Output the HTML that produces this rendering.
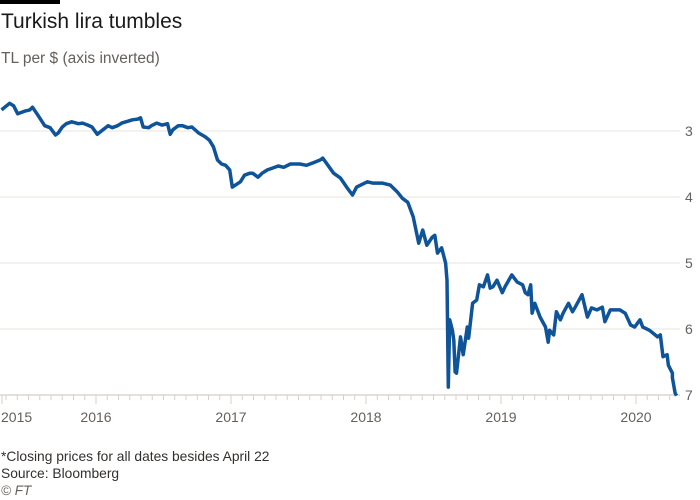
<!DOCTYPE html>
<html><head><meta charset="utf-8"><style>
body{margin:0;background:#fff;width:700px;height:500px;overflow:hidden;font-family:"Liberation Sans",sans-serif;}
svg{position:absolute;left:0;top:0}
</style></head><body>
<svg width="700" height="500">
<rect x="0" y="0" width="60" height="4" fill="#000"/>
<text x="1" y="28" font-size="21" fill="#1a1a1a">Turkish lira tumbles</text>
<text x="1" y="63" font-size="15.5" fill="#66605c">TL per $ (axis inverted)</text>
<g id="grid"></g><g id="xaxis"></g>
<path id="line" fill="none" stroke="#0f5499" stroke-width="3.5" stroke-linejoin="round"/>
<text x="1" y="461" font-size="13.8" fill="#33302e">*Closing prices for all dates besides April 22</text>
<text x="1" y="478" font-size="13.8" fill="#33302e">Source: Bloomberg</text>
<text x="1" y="495" font-size="13.5" font-style="italic" fill="#66605c">© FT</text>
</svg>
<script>
const dates=[2015.30,2015.36,2015.39,2015.42,2015.47,2015.51,2015.53,2015.57,2015.62,2015.66,2015.70,2015.72,2015.75,2015.78,2015.82,2015.87,2015.90,2015.94,2015.97,2016.01,2016.04,2016.09,2016.12,2016.16,2016.19,2016.24,2016.27,2016.31,2016.33,2016.35,2016.39,2016.41,2016.45,2016.49,2016.53,2016.55,2016.57,2016.61,2016.64,2016.68,2016.71,2016.76,2016.81,2016.84,2016.87,2016.90,2016.93,2016.96,2016.99,2017.01,2017.07,2017.10,2017.14,2017.16,2017.20,2017.23,2017.27,2017.31,2017.35,2017.39,2017.44,2017.51,2017.56,2017.61,2017.66,2017.68,2017.76,2017.81,2017.86,2017.90,2017.93,2018.01,2018.05,2018.12,2018.18,2018.23,2018.27,2018.31,2018.35,2018.39,2018.42,2018.45,2018.49,2018.51,2018.53,2018.56,2018.59,2018.60,2018.61,2018.62,2018.64,2018.65,2018.66,2018.67,2018.70,2018.72,2018.75,2018.76,2018.79,2018.82,2018.84,2018.87,2018.90,2018.92,2018.94,2018.97,2019.01,2019.03,2019.05,2019.08,2019.12,2019.16,2019.18,2019.20,2019.22,2019.23,2019.25,2019.29,2019.33,2019.35,2019.36,2019.39,2019.41,2019.44,2019.46,2019.50,2019.53,2019.55,2019.60,2019.64,2019.67,2019.71,2019.75,2019.77,2019.81,2019.88,2019.92,2019.96,2019.99,2020.03,2020.05,2020.10,2020.16,2020.18,2020.20,2020.23,2020.24,2020.27,2020.27,2020.29,2020.30];
const values=[2.68,2.58,2.62,2.74,2.70,2.68,2.64,2.76,2.92,2.95,3.06,3.03,2.94,2.89,2.86,2.89,2.88,2.91,2.94,3.05,3.00,2.92,2.95,2.92,2.88,2.85,2.83,2.82,2.80,2.94,2.95,2.92,2.88,2.91,2.89,3.05,2.98,2.92,2.92,2.95,2.94,3.03,3.09,3.14,3.24,3.44,3.50,3.52,3.59,3.85,3.77,3.67,3.64,3.64,3.70,3.64,3.59,3.56,3.53,3.55,3.50,3.50,3.52,3.48,3.44,3.41,3.64,3.71,3.86,3.97,3.85,3.77,3.79,3.79,3.82,3.92,4.02,4.08,4.30,4.70,4.50,4.73,4.61,4.58,4.85,4.77,5.00,5.26,6.88,5.86,6.02,6.17,6.65,6.67,6.12,6.39,5.97,6.14,5.61,5.56,5.33,5.36,5.18,5.38,5.36,5.26,5.45,5.36,5.29,5.18,5.29,5.33,5.45,5.48,5.33,5.76,5.61,5.82,5.97,6.20,6.02,6.09,5.74,5.86,5.76,5.61,5.74,5.67,5.48,5.82,5.68,5.71,5.67,5.89,5.71,5.71,5.76,5.94,5.97,5.86,5.97,6.02,6.12,6.09,6.42,6.39,6.55,6.67,6.74,6.97,7.01];
const yTicks=[3,4,5,6,7];
const years=[2015,2016,2017,2018,2019,2020];
const xS=t=>96+(t-2016)*135;
const yS=v=>131+(v-3)*66;
const NS="http://www.w3.org/2000/svg";
const grid=document.getElementById('grid'),xa=document.getElementById('xaxis');
yTicks.forEach(v=>{
  const l=document.createElementNS(NS,'line');
  l.setAttribute('x1',0);l.setAttribute('x2',680);l.setAttribute('y1',yS(v));l.setAttribute('y2',yS(v));
  l.setAttribute('stroke',v===7?'#ccc1b7':'#e9e4df');l.setAttribute('stroke-width',1);
  
  
  grid.appendChild(l);
  const t=document.createElementNS(NS,'text');
  t.setAttribute('x',685);t.setAttribute('y',yS(v)+5);t.setAttribute('font-size',14);t.setAttribute('fill','#66605c');
  t.textContent=v;
  
  
  grid.appendChild(t);
});
const y0=yS(7);
for(let m=Math.ceil((2015.30-2015)*12);m<=64;m++){
  const t=2015+m/12,x=xS(t);if(x<1||x>679)continue;
  const isY=m%12===0;
  const l=document.createElementNS(NS,'line');
  l.setAttribute('x1',x);l.setAttribute('x2',x);l.setAttribute('y1',y0);l.setAttribute('y2',y0+(isY?9:5));
  l.setAttribute('stroke','#d8cfc7');
  
  
  xa.appendChild(l);
}
{const l=document.createElementNS(NS,'line');l.setAttribute('x1',2);l.setAttribute('x2',2);l.setAttribute('y1',y0);l.setAttribute('y2',y0+9);l.setAttribute('stroke','#d8cfc7');


xa.appendChild(l);}
years.forEach(yr=>{
  const t=document.createElementNS(NS,'text');
  t.setAttribute('y',422);t.setAttribute('font-size',14);t.setAttribute('fill','#66605c');
  if(yr===2015){t.setAttribute('x',1);}else{t.setAttribute('x',xS(yr));t.setAttribute('text-anchor','middle');}
  t.textContent=yr;
  
  
  xa.appendChild(t);
});
document.getElementById('line').setAttribute('d',dates.map((d,i)=>(i?'L':'M')+xS(d).toFixed(1)+','+yS(values[i]).toFixed(1)).join(''));
</script>
</body></html>
